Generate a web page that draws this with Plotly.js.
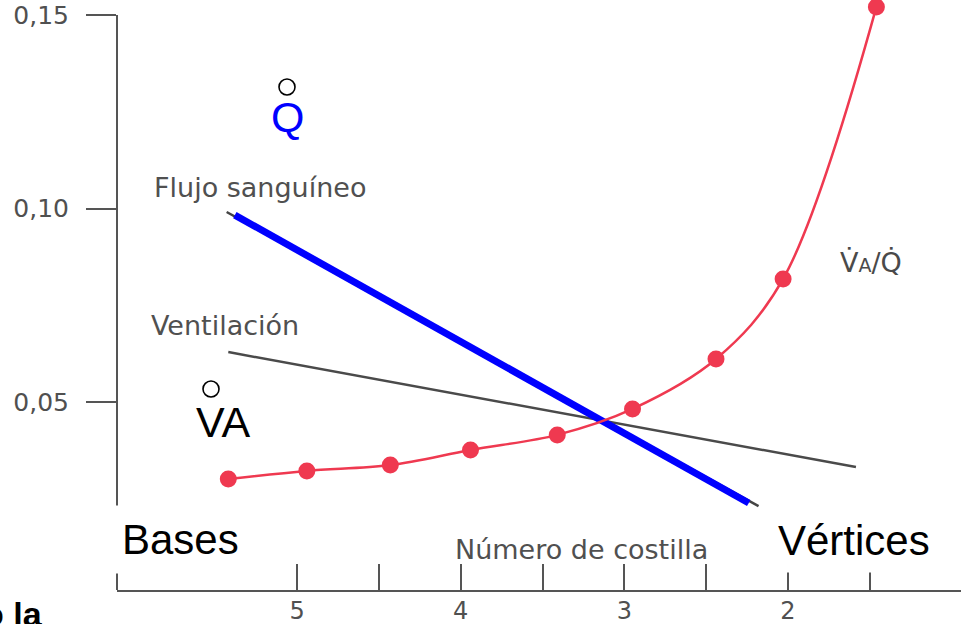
<!DOCTYPE html>
<html>
<head>
<meta charset="utf-8">
<script src="https://cdn.plot.ly/plotly-3.0.1.min.js"></script>
<style>html,body{margin:0;padding:0;background:#fff;}#chart{width:961px;height:624px;}</style>
</head>
<body>
<div id="chart"></div>
<script>
// ---- data ----
const ribVAQ = [5.42, 4.94, 4.43, 3.94, 3.41, 2.95, 2.44, 2.03, 1.46];
const vaq    = [0.0301, 0.0322, 0.0337, 0.0376, 0.0415, 0.0482, 0.0611, 0.0818, 0.1521];

const flujoRib = [5.38, 2.24];
const flujo    = [0.0983, 0.0239];
const flujoScanRib = [5.43, 2.18];
const flujoScan    = [0.0991, 0.0231];

const ventRib = [5.42, 1.585];
const vent    = [0.0629, 0.0332];

const xTickVals = [5, 4.5, 4, 3.5, 3, 2.5, 2, 1.5];
const xTickText = ["5", "", "4", "", "3", "", "2", ""];
const yTickVals = [0.05, 0.10, 0.15];
const yTickText = ["0,05", "0,10", "0,15"];

// ---- layout helpers ----
const L = 117, PW = 844, PH = 590;
const xRange = [6.10, 0.943];
const yRange = [0.00142, 0.15388];
function xp(px){ return (px - L) / PW; }
function yp(py){ return (PH - py) / PH; }
function yv(v){ return (v - yRange[0]) / (yRange[1] - yRange[0]); }

const gray = '#555555';
const lab = {family: 'DejaVu Sans', size: 27, color: '#505050'};

const traces = [
  {x: flujoScanRib, y: flujoScan, mode: 'lines', line: {color: '#444', width: 2.5}, hoverinfo: 'skip'},
  {x: ventRib, y: vent, mode: 'lines', line: {color: '#4a4a4a', width: 2.5}, hoverinfo: 'skip'},
  {x: flujoRib, y: flujo, mode: 'lines', line: {color: '#0000ff', width: 7}, hoverinfo: 'skip'},
  {x: ribVAQ, y: vaq, mode: 'lines+markers', line: {color: '#ef3950', width: 2.5, shape: 'spline', smoothing: 1},
   marker: {color: '#ef3950', size: 17}, hoverinfo: 'skip'}
];

function circ(cx, cy, r){
  return {type: 'circle', xref: 'paper', yref: 'paper',
    x0: xp(cx - r), x1: xp(cx + r), y0: yp(cy + r), y1: yp(cy - r),
    line: {color: '#000', width: 1.6}, fillcolor: 'rgba(0,0,0,0)'};
}
function ann(text, cx, cy, font, extra){
  return Object.assign({text: text, x: xp(cx), y: yp(cy), xref: 'paper', yref: 'paper',
    xanchor: 'center', yanchor: 'middle', showarrow: false, font: font}, extra || {});
}

const layout = {
  width: 961, height: 624,
  margin: {l: L, r: 0, t: 0, b: 624 - PH, pad: 0},
  paper_bgcolor: '#ffffff', plot_bgcolor: '#ffffff',
  showlegend: false,
  xaxis: {range: xRange, tickvals: xTickVals, ticktext: xTickText, ticks: 'inside', ticklen: 26,
    tickwidth: 2, tickcolor: gray, showline: true, linecolor: gray, linewidth: 2,
    showgrid: false, zeroline: false, ticklabelstandoff: -2,
    tickfont: {family: 'DejaVu Sans', size: 24, color: '#505050'}},
  yaxis: {range: yRange, tickvals: yTickVals, ticktext: yTickText, ticks: 'outside', ticklen: 30,
    tickwidth: 2, tickcolor: gray, showline: false, showgrid: false, zeroline: false,
    ticklabelstandoff: 12, tickfont: {family: 'DejaVu Sans', size: 25, color: '#505050'}},
  shapes: [
    {type: 'line', xref: 'paper', yref: 'paper', x0: 0, x1: 0, y0: yv(0.15), y1: 0,
     line: {color: gray, width: 2}},
    circ(287, 87, 8),
    circ(211, 389, 8)
  ],
  annotations: [
    ann('Q', 287, 117, {family: 'Liberation Sans', size: 43, color: '#0000ff'}),
    ann('VA', 223, 422, {family: 'Liberation Sans', size: 43, color: '#000'}),
    ann('Flujo sanguíneo', 152, 188, lab, {xanchor: 'left'}),
    ann('Ventilación', 149, 326, lab, {xanchor: 'left'}),
    ann('V\u0307<span style="font-size:19px">A</span>/Q\u0307', 871, 262,
        {family: 'DejaVu Sans', size: 27, color: '#4a4a4a'}),
    ann('Número de costilla', 581, 549, lab),
    ann('Bases', 180, 539, {family: 'Liberation Sans', size: 42, color: '#000'},
        {bgcolor: '#ffffff', borderpad: 10}),
    ann('Vértices', 854, 540, {family: 'Liberation Sans', size: 42, color: '#000'},
        {bgcolor: '#ffffff', borderpad: 8}),
    ann('<b>o la</b>', 45, 614, {family: 'Liberation Sans', size: 34, color: '#000'}, {xanchor: 'right'})
  ]
};

Plotly.newPlot('chart', traces, layout, {staticPlot: true, displayModeBar: false});
</script>
</body>
</html>
